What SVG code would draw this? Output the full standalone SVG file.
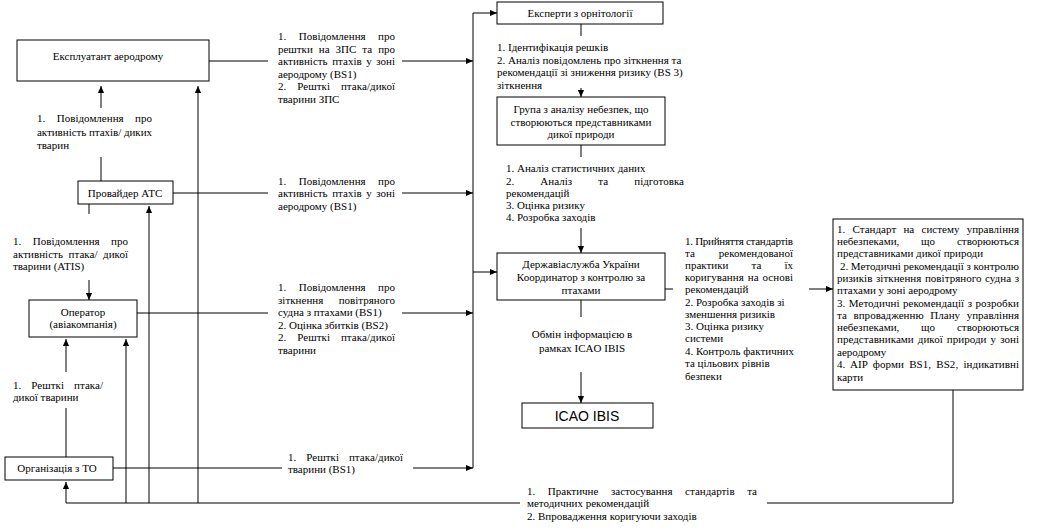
<svg xmlns="http://www.w3.org/2000/svg" width="1038" height="529" viewBox="0 0 1038 529" font-family="'Liberation Serif', 'DejaVu Serif', serif">
<style>
text{font-family:'Liberation Serif','DejaVu Serif',serif;font-size:11px;fill:#000}
.c{text-anchor:middle}
.big{font-family:'Liberation Sans','DejaVu Sans',sans-serif;font-size:14px}
rect{fill:#fff;stroke:#000;stroke-width:1}
#connectors path,#connectors line{fill:none;stroke:#000;stroke-width:1}
.a{marker-end:url(#ah)}
</style>
<defs>
<marker id="ah" viewBox="0 0 8 8" refX="8" refY="4" markerWidth="7" markerHeight="7" markerUnits="userSpaceOnUse" orient="auto"><path d="M0,0.5 L8,4 L0,7.5 z" fill="#000"/></marker>
</defs>
<rect x="0" y="0" width="1038" height="529" style="stroke:none;fill:#fff"/>

<g id="connectors">
<line x1="209" y1="61" x2="268" y2="61"/>
<line class="a" x1="402" y1="61" x2="473" y2="61"/>
<line x1="173" y1="193" x2="268" y2="193"/>
<line class="a" x1="402" y1="193" x2="473" y2="193"/>
<line x1="137" y1="313" x2="268" y2="313"/>
<line class="a" x1="402" y1="313" x2="473" y2="313"/>
<line x1="113" y1="468" x2="282" y2="468"/>
<line class="a" x1="413" y1="468" x2="473" y2="468"/>
<path class="a" d="M473,468 V13 H497"/>
<line class="a" x1="473" y1="272" x2="497" y2="272"/>
<line x1="101" y1="181" x2="101" y2="157"/>
<line class="a" x1="101" y1="108" x2="101" y2="86"/>
<line x1="89" y1="204" x2="89" y2="214"/>
<line class="a" x1="89" y1="280" x2="89" y2="300"/>
<line x1="66" y1="457" x2="66" y2="408"/>
<line class="a" x1="66" y1="372" x2="66" y2="339"/>
<path class="a" d="M520,503 H66 V482"/>
<line class="a" x1="126" y1="503" x2="126" y2="339"/>
<line class="a" x1="149" y1="503" x2="149" y2="206"/>
<line class="a" x1="198" y1="503" x2="198" y2="86"/>
<path d="M767,503 H953 V390"/>
<line x1="581" y1="24" x2="581" y2="36"/>
<line class="a" x1="581" y1="88" x2="581" y2="97"/>
<line x1="581" y1="145" x2="581" y2="157"/>
<line class="a" x1="581" y1="228" x2="581" y2="253"/>
<line x1="581" y1="300" x2="581" y2="317"/>
<line class="a" x1="581" y1="372" x2="581" y2="403"/>
<line x1="665" y1="289" x2="673" y2="289"/>
<line class="a" x1="809" y1="289" x2="833" y2="289"/>
</g>

<g id="labels">
<g id="lbl-ekspl">
<text x="278" y="40" textLength="117" lengthAdjust="spacing" style="word-spacing:9.7px">1. Повідомлення про</text>
<text x="278" y="52.5" textLength="117" lengthAdjust="spacing" style="word-spacing:3.3px">рештки на ЗПС та про</text>
<text x="278" y="65" textLength="117" lengthAdjust="spacing" style="word-spacing:1.8px">активність птахів у зоні</text>
<text x="278" y="77.5">аеродрому (BS1)</text>
<text x="278" y="90" textLength="117" lengthAdjust="spacing" style="word-spacing:8.1px">2. Решткі птака/дикої</text>
<text x="278" y="102.5">тварини ЗПС</text>
</g>
<g id="lbl-atc">
<text x="278" y="185" textLength="117" lengthAdjust="spacing" style="word-spacing:9.7px">1. Повідомлення про</text>
<text x="278" y="197" textLength="117" lengthAdjust="spacing" style="word-spacing:1.8px">активність птахів у зоні</text>
<text x="278" y="210">аеродрому (BS1)</text>
</g>
<g id="lbl-oper">
<text x="278" y="291" textLength="117" lengthAdjust="spacing" style="word-spacing:9.7px">1. Повідомлення про</text>
<text x="278" y="303.5" textLength="117" lengthAdjust="spacing" style="word-spacing:12.7px">зіткнення повітряного</text>
<text x="278" y="316">судна з птахами (BS1)</text>
<text x="278" y="328.5">2. Оцінка збитків (BS2)</text>
<text x="278" y="341" textLength="117" lengthAdjust="spacing" style="word-spacing:8.1px">2. Решткі птака/дикої</text>
<text x="278" y="353.5">тварини</text>
</g>
<g id="lbl-to">
<text x="288" y="461" textLength="115" lengthAdjust="spacing" style="word-spacing:7.1px">1. Решткі птака/дикої</text>
<text x="288" y="473">тварини (BS1)</text>
</g>
<g id="lbl-atc-ekspl">
<text x="37" y="122" textLength="115" lengthAdjust="spacing" style="word-spacing:8.7px">1. Повідомлення про</text>
<text x="37" y="135.5" textLength="115" lengthAdjust="spacing">активність птахів/ диких</text>
<text x="37" y="149">тварин</text>
</g>
<g id="lbl-atc-oper">
<text x="13" y="245" textLength="115" lengthAdjust="spacing" style="word-spacing:8.7px">1. Повідомлення про</text>
<text x="13" y="257.5" textLength="115" lengthAdjust="spacing" style="word-spacing:2.7px">активність птака/ дикої</text>
<text x="13" y="270">тварини (ATIS)</text>
</g>
<g id="lbl-to-oper">
<text x="13" y="389" textLength="90" lengthAdjust="spacing" style="word-spacing:7.3px">1. Решткі птака/</text>
<text x="13" y="401">дикої тварини</text>
</g>
<g id="lbl-exp-group">
<text x="497" y="51">1. Ідентифікація решків</text>
<text x="497" y="64">2. Аналіз повідомлень про зіткнення та</text>
<text x="497" y="76">рекомендації зі зниження ризику (BS 3)</text>
<text x="497" y="89">зіткнення</text>
</g>
<g id="lbl-group-derzh">
<text x="506" y="172">1. Аналіз статистичних даних</text>
<text x="506" y="185" textLength="178" lengthAdjust="spacing" style="word-spacing:23.3px">2. Аналіз та підготовка</text>
<text x="506" y="197">рекомендацій</text>
<text x="506" y="209">3. Оцінка ризику</text>
<text x="506" y="221">4. Розробка заходів</text>
</g>
<g id="lbl-derzh-icao">
<text class="c" x="582" y="338">Обмін інформацією в</text>
<text class="c" x="582" y="352">рамках ICAO IBIS</text>
</g>
<g id="lbl-derzh-std">
<text x="685" y="245" textLength="108" lengthAdjust="spacing">1. Прийняття стандартів</text>
<text x="685" y="257" textLength="108" lengthAdjust="spacing" style="word-spacing:21px">та рекомендованої</text>
<text x="685" y="269" textLength="108" lengthAdjust="spacing" style="word-spacing:20.3px">практики та їх</text>
<text x="685" y="281" textLength="108" lengthAdjust="spacing" style="word-spacing:1.2px">коригування на основі</text>
<text x="685" y="293">рекомендацій</text>
<text x="685" y="306">2. Розробка заходів зі</text>
<text x="685" y="318">зменшення ризиків</text>
<text x="685" y="330">3. Оцінка ризику</text>
<text x="685" y="342">системи</text>
<text x="685" y="355">4. Контроль фактичних</text>
<text x="685" y="367">та цільових рівнів</text>
<text x="685" y="380">безпеки</text>
</g>
<g id="lbl-bottom">
<text x="527" y="495" textLength="230" lengthAdjust="spacing" style="word-spacing:9.8px">1. Практичне застосування стандартів та</text>
<text x="527" y="507">методичних рекомендацій</text>
<text x="527" y="520">2. Впровадження коригуючи заходів</text>
</g>
</g>

<g id="n-ekspl"><rect x="17" y="40" width="192" height="41"/><text class="c" x="108" y="60">Експлуатант аеродрому</text></g>
<g id="n-atc"><rect x="78" y="181" width="95" height="23"/><text class="c" x="125" y="197">Провайдер АТС</text></g>
<g id="n-oper"><rect x="29" y="300" width="108" height="37"/><text class="c" x="83" y="316">Оператор</text><text class="c" x="83" y="328">(авіакомпанія)</text></g>
<g id="n-to"><rect x="5" y="457" width="108" height="23"/><text class="c" x="57" y="472">Організація з ТО</text></g>
<g id="n-exp"><rect x="497" y="2" width="166" height="22"/><text class="c" x="580" y="17">Експерти з орнітології</text></g>
<g id="n-group"><rect x="497" y="97" width="168" height="48"/><text class="c" x="581" y="113">Група з аналізу небезпек, що</text><text class="c" x="581" y="126">створюються представниками</text><text class="c" x="581" y="138">дикої природи</text></g>
<g id="n-derzh"><rect x="497" y="253" width="168" height="47"/><text class="c" x="581" y="268">Державіаслужба України</text><text class="c" x="581" y="281">Координатор з контролю за</text><text class="c" x="581" y="294">птахами</text></g>
<g id="n-icao"><rect x="522" y="403" width="131" height="25"/><text class="c big" x="587" y="421">ICAO IBIS</text></g>
<g id="n-std">
<rect x="833" y="219" width="190" height="171"/>
<text x="837" y="233" textLength="182" lengthAdjust="spacing" style="word-spacing:4.5px">1. Стандарт на систему управління</text>
<text x="837" y="245" textLength="182" lengthAdjust="spacing" style="word-spacing:19px">небезпеками, що створюються</text>
<text x="837" y="257">представниками дикої природи</text>
<text x="840" y="270" textLength="179" lengthAdjust="spacing">2. Методичні рекомендації з контролю</text>
<text x="837" y="282" textLength="182" lengthAdjust="spacing" style="word-spacing:0.8px">ризиків зіткнення повітряного судна з</text>
<text x="837" y="294">птахами у зоні аеродрому</text>
<text x="837" y="307" textLength="182" lengthAdjust="spacing" style="word-spacing:0.7px">3. Методичні рекомендації з розробки</text>
<text x="837" y="319" textLength="182" lengthAdjust="spacing" style="word-spacing:3.9px">та впровадженню Плану управління</text>
<text x="837" y="331" textLength="182" lengthAdjust="spacing" style="word-spacing:19px">небезпеками, що створюються</text>
<text x="837" y="343" textLength="182" lengthAdjust="spacing" style="word-spacing:1.3px">представниками дикої природи у зоні</text>
<text x="837" y="356">аеродрому</text>
<text x="837" y="368" textLength="182" lengthAdjust="spacing" style="word-spacing:2.5px">4. AIP форми BS1, BS2, індикативні</text>
<text x="837" y="381">карти</text>
</g>
</svg>
